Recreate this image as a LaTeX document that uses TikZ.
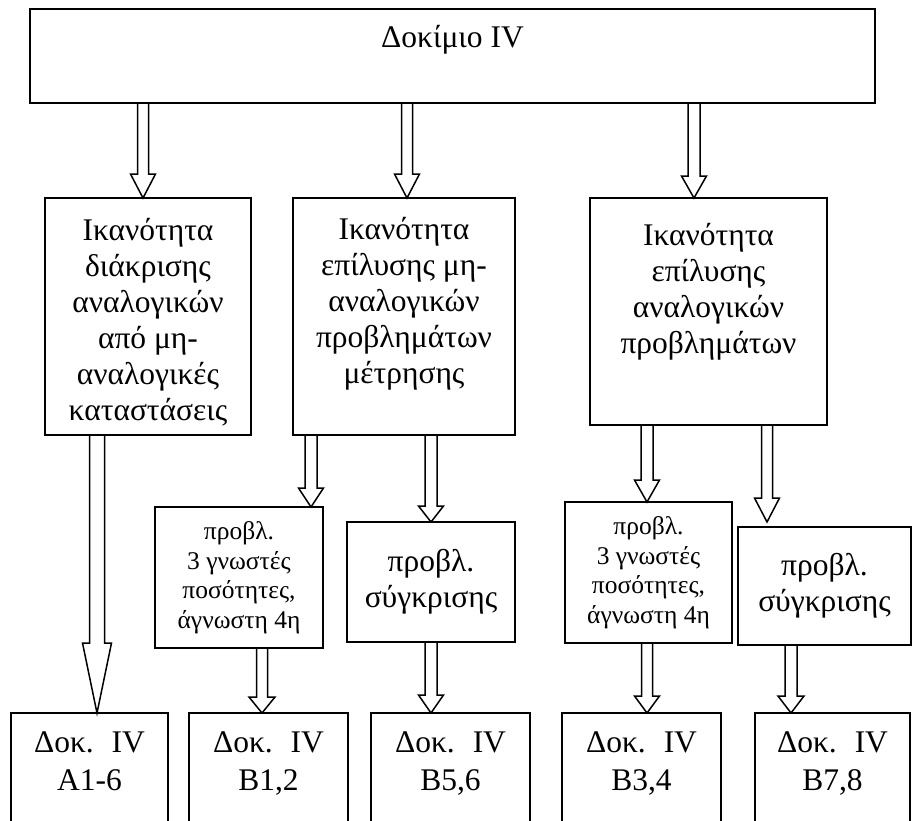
\documentclass[tikz,border=0pt]{standalone}
\usepackage{fontspec}
\setmainfont{Liberation Serif}
\usetikzlibrary{calc}
\tikzset{
  box/.style={draw, line width=1.8pt, inner sep=0pt, outer sep=0pt, anchor=north west},
  arr/.style={draw, line width=1.5pt, line join=miter},
  bigfont/.style={font=\fontsize{31.5}{36}\selectfont},
  smallfont/.style={font=\fontsize{25.5}{29.5}\selectfont},
}
% #1 x, #2 source node, #3 target node, #4 head length, #5 shaft half width, #6 head half width, #7 gap above target
\newcommand\fatarr[7]{%
  \draw[arr] let \p1=(#2.south), \p2=(#3.north) in
   ({(#1-#5)*1pt},\y1) -- ({(#1-#5)*1pt},\y2+#7pt+#4pt) -- ({(#1-#6)*1pt},\y2+#7pt+#4pt)
   -- ({#1*1pt},\y2+#7pt) -- ({(#1+#6)*1pt},\y2+#7pt+#4pt) -- ({(#1+#5)*1pt},\y2+#7pt+#4pt)
   -- ({(#1+#5)*1pt},\y1);
}
\begin{document}
\begin{tikzpicture}[x=1pt,y=-1pt,bigfont]
\useasboundingbox (0,0) rectangle (913,820);
\fill[white] (0,0) rectangle (913,820);
\clip (0,0) rectangle (913,820);

\node[box] (top) at (30,9) {\parbox[c][94pt][t]{845pt}{\centering\vspace*{16pt}Δοκίμιο IV}};

\node[box] (A) at (45,198) {\parbox[c][237pt][t]{206pt}{\centering\vspace*{20pt}Ικανότητα\\ διάκρισης\\ αναλογικών\\ από μη-\\ αναλογικές\\ καταστάσεις}};
\node[box] (B) at (293,198) {\parbox[c][237pt][t]{222pt}{\centering\vspace*{19pt}Ικανότητα\\ επίλυσης μη-\\ αναλογικών\\ προβλημάτων\\ μέτρησης}};
\node[box] (C) at (590,198) {\parbox[c][227pt][t]{237pt}{\centering\vspace*{25pt}Ικανότητα\\ επίλυσης\\ αναλογικών\\ προβλημάτων}};

\node[box,smallfont] (D) at (155,507) {\parbox[c][141pt][c]{168pt}{\centering προβλ.\\ 3 γνωστές\\ ποσότητες,\\ άγνωστη 4η}};
\node[box] (E) at (347,522) {\parbox[c][120pt][c]{168pt}{\centering προβλ.\\ σύγκρισης}};
\node[box,smallfont] (F) at (565,502) {\parbox[c][141pt][c]{167pt}{\centering προβλ.\\ 3 γνωστές\\ ποσότητες,\\ άγνωστη 4η}};
\node[box] (G) at (738,527) {\parbox[c][118pt][c]{173pt}{\centering προβλ.\\ σύγκρισης}};

\node[box] (b1) at (11,713) {\parbox[c][130pt][t]{157pt}{\centering\vspace*{19pt}Δοκ.\hspace{18pt}IV\\[2pt] A1-6}};
\node[box] (b2) at (189,713) {\parbox[c][130pt][t]{159pt}{\centering\vspace*{19pt}Δοκ.\hspace{18pt}IV\\[2pt] B1,2}};
\node[box] (b3) at (371,713) {\parbox[c][130pt][t]{159pt}{\centering\vspace*{19pt}Δοκ.\hspace{18pt}IV\\[2pt] B5,6}};
\node[box] (b4) at (562,713) {\parbox[c][130pt][t]{159pt}{\centering\vspace*{19pt}Δοκ.\hspace{18pt}IV\\[2pt] B3,4}};
\node[box] (b5) at (755,713) {\parbox[c][130pt][t]{155pt}{\centering\vspace*{19pt}Δοκ.\hspace{18pt}IV\\[2pt] B7,8}};

\fatarr{143}{top}{A}{24}{5.5}{12.5}{0}
\fatarr{407}{top}{B}{24}{5.5}{12.5}{0}
\fatarr{694}{top}{C}{22}{6}{12.5}{0}
\fatarr{97}{A}{b1}{70}{7.5}{14.5}{0}
\fatarr{311}{B}{D}{19}{6}{12.5}{0}
\fatarr{431}{B}{E}{16}{6}{12.5}{0}
\fatarr{647}{C}{F}{22}{6}{12.5}{0}
\fatarr{767}{C}{G}{24}{5.5}{12.5}{5}
\fatarr{262}{D}{b2}{16}{5.5}{13}{0}
\fatarr{431}{E}{b3}{18}{6}{12.5}{0}
\fatarr{647}{F}{b4}{17}{5.5}{12.5}{0}
\fatarr{791}{G}{b5}{17}{6}{13}{0}
\end{tikzpicture}
\end{document}
